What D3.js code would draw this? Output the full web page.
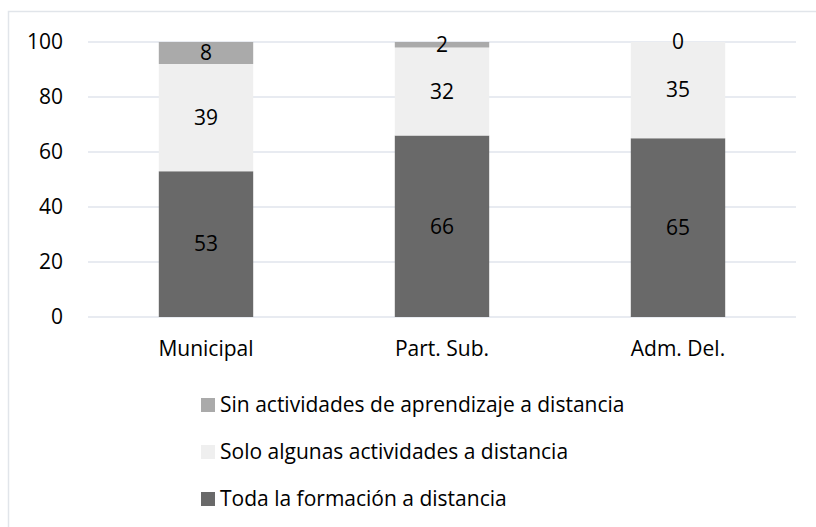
<!DOCTYPE html>
<html lang="es">
<head>
<meta charset="UTF-8">
<title>Formación a distancia</title>
<style>
  body { margin: 0; background: #fff; }
  svg text { font-family: "Open Sans", sans-serif; fill: #000; }
</style>
</head>
<body>
<svg id="chart" width="816" height="527"></svg>
<script src="https://d3js.org/d3.v7.min.js"></script>
<script>
const categories = ["Municipal", "Part. Sub.", "Adm. Del."];
const toda = [53, 66, 65];
const algunas = [39, 32, 35];
const sin = [8, 2, 0];
const yTicks = [0, 20, 40, 60, 80, 100];

const seriesNames = [
  "Toda la formación a distancia",
  "Solo algunas actividades a distancia",
  "Sin actividades de aprendizaje a distancia"
];
const seriesColors = ["#696969", "#efefef", "#aaaaaa"];
const seriesValues = [toda, algunas, sin];

const fs = 21;
const svg = d3.select("#chart");

// marco
svg.append("path")
  .attr("d", "M8.5,527 V11.5 H816")
  .attr("fill", "none")
  .attr("stroke", "#e1e5ea")
  .attr("stroke-width", 1.5);

const x = d3.scaleBand().domain(categories).range([88, 796]).paddingInner(0.6).paddingOuter(0.3);
const y = d3.scaleLinear().domain([0, 100]).range([317, 42]);

// grid
svg.append("g").selectAll("line").data(yTicks).join("line")
  .attr("x1", 88).attr("x2", 796)
  .attr("y1", d => y(d)).attr("y2", d => y(d))
  .attr("stroke", "#e1e5ec").attr("stroke-width", 1.5);

// eje y
svg.append("g").selectAll("text").data(yTicks).join("text")
  .attr("x", 63).attr("y", d => y(d)).attr("dy", "0.35em")
  .attr("text-anchor", "end").attr("font-size", fs)
  .text(d => d);

const rows = categories.map((c, i) => {
  const r = { cat: c };
  seriesValues.forEach((s, k) => r["s" + k] = s[i]);
  return r;
});
const stack = d3.stack().keys(["s0", "s1", "s2"])(rows);

stack.forEach((layer, k) => {
  svg.append("g").selectAll("rect").data(layer).join("rect")
    .attr("x", d => x(d.data.cat))
    .attr("width", x.bandwidth())
    .attr("y", d => y(d[1]))
    .attr("height", d => y(d[0]) - y(d[1]))
    .attr("fill", seriesColors[k]);
});

stack.forEach((layer, k) => {
  svg.append("g").selectAll("text").data(layer).join("text")
    .attr("x", d => x(d.data.cat) + x.bandwidth() / 2)
    .attr("y", d => y((d[0] + d[1]) / 2))
    .attr("dy", "0.35em")
    .attr("text-anchor", "middle").attr("font-size", fs)
    .text(d => d[1] - d[0]);
});

// categorias
svg.append("g").selectAll("text").data(categories).join("text")
  .attr("x", d => x(d) + x.bandwidth() / 2).attr("y", 356)
  .attr("text-anchor", "middle").attr("font-size", fs)
  .text(d => d);

// leyenda
const legendOrder = [2, 1, 0];
const legendY = d3.scalePoint().domain(legendOrder).range([405, 499]);
const lg = svg.append("g").selectAll("g").data(legendOrder).join("g")
  .attr("transform", d => `translate(201,${legendY(d)})`);
lg.append("rect").attr("x", 0).attr("y", -7).attr("width", 14).attr("height", 14)
  .attr("fill", d => seriesColors[d]);
lg.append("text").attr("x", 19).attr("y", 0).attr("dy", "0.35em")
  .attr("font-size", fs).text(d => seriesNames[d]);
</script>
</body>
</html>
